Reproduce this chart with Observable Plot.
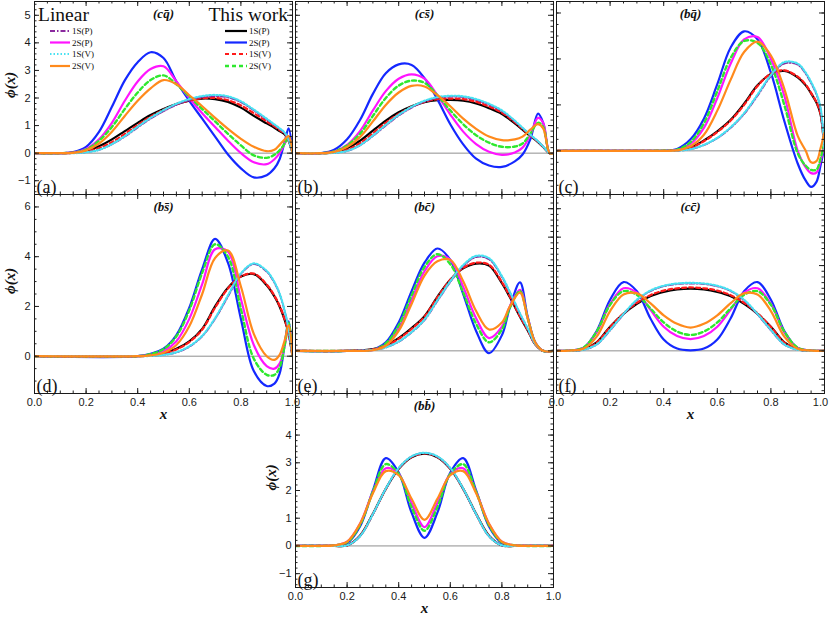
<!DOCTYPE html>
<html><head><meta charset="utf-8">
<script src="https://cdn.jsdelivr.net/npm/d3@7"></script>
<script src="https://cdn.jsdelivr.net/npm/@observablehq/plot@0.6"></script>
<style>
html,body{margin:0;padding:0;background:#fff;}
#wrap{position:relative;width:830px;height:619px;overflow:hidden;background:#fff;}
</style></head><body><div id="wrap"></div>
<script>
// ---------- (a) c q-bar ----------
const xs_cq = [0,0.1,0.15,0.2,0.25,0.3,0.35,0.4,0.45,0.5,0.55,0.6,0.65,0.7,0.75,0.8,0.85,0.9,0.93,0.95,0.97,0.985,1];
const cq_twP2 = [0,0,0.04,0.23,0.77,1.68,2.64,3.3,3.66,3.45,2.6,1.9,1.25,0.6,-0.05,-0.55,-0.88,-0.8,-0.55,-0.22,0.42,0.9,0];
const cq_linP2 = [0,0,0.02,0.15,0.5,1.1,1.9,2.6,3.05,3.15,2.6,2.0,1.45,0.95,0.45,0,-0.33,-0.4,-0.22,0,0.35,0.62,0];
const cq_twV2 = [0,0,0.02,0.13,0.45,0.95,1.6,2.2,2.65,2.82,2.5,2.05,1.6,1.15,0.7,0.28,-0.08,-0.17,-0.06,0.1,0.35,0.58,0];
const cq_linV2 = [0,0,0.01,0.1,0.35,0.78,1.35,1.9,2.35,2.65,2.5,2.1,1.7,1.28,0.88,0.52,0.23,0.07,0.12,0.3,0.5,0.62,0];
const cq_twP1 = [0,0,0.02,0.08,0.25,0.5,0.8,1.1,1.38,1.6,1.78,1.9,1.98,1.96,1.86,1.65,1.35,1.08,0.92,0.8,0.68,0.45,0];
const cq_twV1 = [0,0,0.01,0.05,0.18,0.4,0.7,1.02,1.32,1.57,1.77,1.91,1.99,2.0,1.92,1.73,1.45,1.15,0.97,0.84,0.7,0.46,0];
const cq_linP1 = [0,0,0,0.03,0.12,0.32,0.6,0.93,1.25,1.52,1.75,1.92,2.03,2.07,2.02,1.85,1.55,1.22,1.02,0.88,0.72,0.47,0];
const cq_linV1 = [0,0,0,0.03,0.12,0.33,0.62,0.96,1.28,1.56,1.79,1.96,2.07,2.11,2.06,1.88,1.58,1.25,1.04,0.9,0.74,0.48,0];
// ---------- (b) c s-bar ----------
const xs_cs = [0,0.1,0.15,0.2,0.25,0.3,0.35,0.4,0.45,0.5,0.55,0.6,0.65,0.7,0.75,0.8,0.85,0.88,0.91,0.94,0.96,0.985,1];
const cs_twP2 = [0,0,0.12,0.5,1.2,2.15,2.9,3.22,3.2,2.72,1.95,1.05,0.32,-0.2,-0.45,-0.5,-0.3,-0.05,0.5,1.43,1.1,0,0];
const cs_linP2 = [0,0,0.06,0.3,0.8,1.55,2.25,2.7,2.86,2.7,2.1,1.4,0.78,0.33,0.05,-0.06,0.02,0.2,0.65,1.28,1.1,0,0];
const cs_twV2 = [0,0,0.06,0.28,0.7,1.35,2.0,2.45,2.63,2.55,2.1,1.55,1.05,0.65,0.38,0.23,0.24,0.35,0.7,1.1,0.95,0,0];
const cs_linV2 = [0,0,0.04,0.22,0.58,1.15,1.75,2.2,2.44,2.42,2.1,1.7,1.25,0.88,0.6,0.47,0.5,0.6,0.85,1.05,0.9,0,0];
const cs_twP1 = [0,0,0.03,0.18,0.45,0.82,1.18,1.48,1.7,1.85,1.92,1.93,1.9,1.8,1.63,1.42,1.08,0.85,0.62,0.4,0.22,0,0];
const cs_twV1 = [0,0,0.02,0.12,0.36,0.72,1.1,1.42,1.68,1.86,1.96,1.98,1.96,1.86,1.69,1.47,1.12,0.88,0.64,0.41,0.23,0,0];
const cs_linP1 = [0,0,0.01,0.08,0.28,0.62,1.0,1.36,1.65,1.87,2.0,2.05,2.03,1.93,1.76,1.52,1.16,0.91,0.66,0.42,0.23,0,0];
const cs_linV1 = [0,0,0.01,0.08,0.29,0.64,1.03,1.39,1.68,1.9,2.03,2.08,2.06,1.96,1.79,1.55,1.18,0.92,0.67,0.43,0.24,0,0];
// ---------- (c) b q-bar ----------
const xs_bq = [0,0.35,0.4,0.45,0.5,0.55,0.6,0.65,0.7,0.75,0.8,0.85,0.9,0.93,0.95,0.97,0.985,1];
const bq_twP2 = [0,0,0,0.08,0.5,1.4,2.9,4.5,5.2,4.85,3.4,1.3,-0.55,-1.3,-1.57,-1.35,-0.65,0.2];
const bq_linP2 = [0,0,0,0.03,0.3,1.0,2.3,3.8,4.85,4.95,4.0,2.4,0.0,-0.72,-0.97,-0.95,-0.45,0.3];
const bq_twV2 = [0,0,0.01,0.05,0.38,1.2,2.6,4.05,4.78,4.7,3.75,2.0,-0.1,-0.65,-0.83,-0.82,-0.35,0.4];
const bq_linV2 = [0,0,0,0.02,0.2,0.7,1.75,3.1,4.3,4.75,4.15,2.7,0.65,0.0,-0.5,-0.45,0.1,0.8];
const bq_twP1 = [0,0,0,0.03,0.15,0.45,0.85,1.35,2.05,2.85,3.35,3.48,3.2,2.85,2.5,2.1,1.6,0];
const bq_twV1 = [0,0,0,0.02,0.13,0.42,0.82,1.32,2.0,2.82,3.36,3.5,3.23,2.88,2.52,2.12,1.62,0];
const bq_linP1 = [0,0,0,0.01,0.07,0.25,0.55,1.0,1.6,2.4,3.25,3.8,3.75,3.35,2.95,2.45,1.85,0];
const bq_linV1 = [0,0,0,0.01,0.07,0.26,0.57,1.03,1.64,2.45,3.3,3.86,3.8,3.4,3.0,2.5,1.9,0];
// ---------- (d) b s-bar ----------
const xs_bs = [0,0.4,0.45,0.5,0.55,0.6,0.65,0.7,0.75,0.8,0.85,0.9,0.93,0.95,0.97,0.985,1];
const bs_twP2 = [0,0,0.1,0.3,0.85,1.95,3.5,4.72,3.75,1.5,-0.6,-1.2,-1.1,-0.7,0.5,1.4,0];
const bs_linP2 = [0,0,0.05,0.2,0.6,1.5,2.9,4.3,4.2,2.3,0.45,-0.4,-0.5,-0.3,0.45,1.3,0];
const bs_twV2 = [0,0,0.08,0.28,0.8,1.85,3.35,4.5,4.0,1.9,-0.1,-0.75,-0.75,-0.45,0.45,1.35,0];
const bs_linV2 = [0,0,0.03,0.14,0.45,1.2,2.5,3.95,4.25,2.8,0.9,0.0,-0.15,0.05,0.65,1.25,0];
const bs_twP1 = [0,0,0.03,0.12,0.3,0.6,1.1,2.0,2.75,3.2,3.3,2.85,2.4,2.0,1.45,0.9,0];
const bs_twV1 = [0,0,0.02,0.1,0.27,0.57,1.07,1.95,2.72,3.2,3.32,2.88,2.43,2.03,1.47,0.92,0];
const bs_linP1 = [0,0,0.01,0.05,0.15,0.38,0.8,1.5,2.4,3.3,3.7,3.4,2.95,2.5,1.8,1.05,0];
const bs_linV1 = [0,0,0.01,0.05,0.16,0.4,0.82,1.53,2.45,3.33,3.73,3.43,2.98,2.52,1.82,1.07,0];
// ---------- (e) b c-bar ----------
const xs_bc = [0,0.2,0.3,0.35,0.4,0.45,0.5,0.55,0.6,0.65,0.7,0.75,0.8,0.83,0.87,0.9,0.93,0.96,1];
const bc_twP2 = [0,0,0.05,0.3,1.0,2.1,3.1,3.6,3.2,2.0,0.7,-0.08,0.55,1.5,2.41,1.2,0.28,0,0];
const bc_linP2 = [0,0,0.03,0.22,0.8,1.8,2.8,3.33,3.2,2.25,1.15,0.45,0.85,1.55,2.15,1.15,0.28,0,0];
const bc_twV2 = [0,0,0.04,0.26,0.9,1.95,2.95,3.4,3.05,2.05,0.95,0.3,0.75,1.5,2.1,1.15,0.28,0,0];
const bc_linV2 = [0,0,0.02,0.18,0.7,1.65,2.65,3.15,3.2,2.45,1.4,0.75,1.0,1.55,2.05,1.15,0.28,0,0];
const bc_twP1 = [0,0,0.06,0.2,0.45,0.8,1.22,1.9,2.5,2.9,3.07,3.0,2.38,1.9,1.2,0.72,0.22,0,0];
const bc_twV1 = [0,0,0.05,0.18,0.42,0.77,1.2,1.88,2.5,2.92,3.1,3.03,2.42,1.93,1.22,0.73,0.22,0,0];
const bc_linP1 = [0,0,0.03,0.12,0.32,0.65,1.08,1.75,2.42,2.98,3.3,3.22,2.6,2.07,1.3,0.78,0.24,0,0];
const bc_linV1 = [0,0,0.03,0.12,0.33,0.66,1.1,1.78,2.45,3.02,3.34,3.26,2.63,2.09,1.32,0.79,0.24,0,0];
// ---------- (f) c c-bar ----------
const xs_cc = [0,0.05,0.1,0.15,0.2,0.25,0.3,0.35,0.4,0.45,0.5,0.55,0.6,0.65,0.7,0.75,0.8,0.85,0.9,0.95,1];
const cc_twP2 = [0,0.01,0.1,0.7,1.8,2.42,2.1,1.15,0.4,0.08,0.02,0.08,0.4,1.15,2.1,2.42,1.8,0.7,0.1,0.01,0];
const cc_linP2 = [0,0.01,0.1,0.65,1.65,2.2,2.05,1.45,0.85,0.52,0.41,0.52,0.85,1.45,2.05,2.2,1.65,0.65,0.1,0.01,0];
const cc_twV2 = [0,0.01,0.11,0.68,1.62,2.1,1.97,1.5,1.0,0.68,0.56,0.68,1.0,1.5,1.97,2.1,1.62,0.68,0.11,0.01,0];
const cc_linV2 = [0,0.01,0.07,0.5,1.4,1.98,2.02,1.68,1.25,0.95,0.82,0.95,1.25,1.68,2.02,1.98,1.4,0.5,0.07,0.01,0];
const cc_twP1 = [0,0,0.06,0.3,0.85,1.3,1.65,1.92,2.07,2.16,2.19,2.16,2.07,1.92,1.65,1.3,0.85,0.3,0.06,0,0];
const cc_twV1 = [0,0,0.06,0.29,0.84,1.32,1.69,1.96,2.12,2.2,2.23,2.2,2.12,1.96,1.69,1.32,0.84,0.29,0.06,0,0];
const cc_linP1 = [0,0,0.04,0.22,0.72,1.28,1.78,2.1,2.27,2.35,2.37,2.35,2.27,2.1,1.78,1.28,0.72,0.22,0.04,0,0];
const cc_linV1 = [0,0,0.04,0.23,0.74,1.3,1.8,2.12,2.29,2.37,2.39,2.37,2.29,2.12,1.8,1.3,0.74,0.23,0.04,0,0];
// ---------- (g) b b-bar ----------
const xs_bb = [0,0.1,0.15,0.2,0.25,0.3,0.35,0.4,0.45,0.5,0.55,0.6,0.65,0.7,0.75,0.8,0.85,0.9,1];
const bb_twP2 = [0,0,0.01,0.1,0.7,2.0,3.17,2.65,1.2,0.29,1.2,2.65,3.17,2.0,0.7,0.1,0.01,0,0];
const bb_linP2 = [0,0,0.02,0.15,0.8,1.95,2.8,2.6,1.55,0.68,1.55,2.6,2.8,1.95,0.8,0.15,0.02,0,0];
const bb_twV2 = [0,0,0.02,0.13,0.75,1.95,2.95,2.6,1.4,0.55,1.4,2.6,2.95,1.95,0.75,0.13,0.02,0,0];
const bb_linV2 = [0,0,0.02,0.15,0.8,1.9,2.7,2.55,1.7,0.94,1.7,2.55,2.7,1.9,0.8,0.15,0.02,0,0];
const bb_twP1 = [0,0,0,0.02,0.37,1.16,2.06,2.78,3.2,3.33,3.2,2.78,2.06,1.16,0.37,0.02,0,0,0];
const bb_twV1 = [0,0,0,0.02,0.36,1.15,2.06,2.79,3.21,3.34,3.21,2.79,2.06,1.15,0.36,0.02,0,0,0];
const bb_linP1 = [0,0,0,0.02,0.35,1.14,2.06,2.8,3.22,3.35,3.22,2.8,2.06,1.14,0.35,0.02,0,0,0];
const bb_linV1 = [0,0,0,0.02,0.35,1.15,2.07,2.81,3.23,3.36,3.23,2.81,2.07,1.15,0.35,0.02,0,0,0];

// tick labels
const yLabels_a = [-1,0,1,2,3,4,5];
const yLabels_d = [0,2,4,6];
const yLabels_g = [-1,0,1,2,3,4];
const xLabels = [0,0.2,0.4,0.6,0.8,1.0];

const STYLE = {
  twP1: {color:"#000000", width:2.2, dash:null, label:"1S(P)"},
  twP2: {color:"#1428ff", width:2.2, dash:null, label:"2S(P)"},
  twV1: {color:"#ff1a1a", width:2.2, dash:"4,3", label:"1S(V)"},
  twV2: {color:"#2ee82e", width:2.4, dash:"4,3", label:"2S(V)"},
  linP1:{color:"#8a2a9e", width:1.8, dash:"5,2,1.5,2", label:"1S(P)"},
  linP2:{color:"#ff14ff", width:2.2, dash:null, label:"2S(P)"},
  linV1:{color:"#48e2f2", width:2.2, dash:"1.5,2", label:"1S(V)"},
  linV2:{color:"#ff8a1c", width:2.2, dash:null, label:"2S(V)"}
};
const ORDER = ["twP1","twP2","linP2","twV2","twV1","linP1","linV1","linV2"];
const SERIF = "'Liberation Serif','DejaVu Serif',serif";
const SANS = "'Liberation Sans',Arial,sans-serif";

function mk(a){ return {linP1:a[0],linP2:a[1],linV1:a[2],linV2:a[3],twP1:a[4],twP2:a[5],twV1:a[6],twV2:a[7]}; }

const panels = [
 {xs:xs_cq, s:mk([cq_linP1,cq_linP2,cq_linV1,cq_linV2,cq_twP1,cq_twP2,cq_twV1,cq_twV2]), dom:[-1.5,5.5], L:34,R:292,T:1,B:194, maj:1, min:0.2, yl:yLabels_a, xl:null, title:"(cq\u0304)", tag:"(a)", yt:true, xt:false},
 {xs:xs_cs, s:mk([cs_linP1,cs_linP2,cs_linV1,cs_linV2,cs_twP1,cs_twP2,cs_twV1,cs_twV2]), dom:[-1.5,5.5], L:295,R:553,T:1,B:194, maj:1, min:0.2, yl:null, xl:null, title:"(cs\u0304)", tag:"(b)", yt:false, xt:false},
 {xs:xs_bq, s:mk([bq_linP1,bq_linP2,bq_linV1,bq_linV2,bq_twP1,bq_twP2,bq_twV1,bq_twV2]), dom:[-1.9,6.5], L:556,R:824,T:1,B:194, maj:2, min:0.5, yl:null, xl:null, title:"(bq\u0304)", tag:"(c)", yt:false, xt:false},
 {xs:xs_bs, s:mk([bs_linP1,bs_linP2,bs_linV1,bs_linV2,bs_twP1,bs_twP2,bs_twV1,bs_twV2]), dom:[-1.5,6.5], L:34,R:292,T:194,B:393, maj:2, min:0.5, yl:yLabels_d, xl:xLabels, title:"(bs\u0304)", tag:"(d)", yt:true, xt:true},
 {xs:xs_bc, s:mk([bc_linP1,bc_linP2,bc_linV1,bc_linV2,bc_twP1,bc_twP2,bc_twV1,bc_twV2]), dom:[-1.5,5.5], L:295,R:553,T:194,B:393, maj:1, min:0.2, yl:null, xl:null, title:"(bc\u0304)", tag:"(e)", yt:false, xt:false},
 {xs:xs_cc, s:mk([cc_linP1,cc_linP2,cc_linV1,cc_linV2,cc_twP1,cc_twP2,cc_twV1,cc_twV2]), dom:[-1.5,5.5], L:556,R:824,T:194,B:393, maj:1, min:0.2, yl:null, xl:xLabels, title:"(cc\u0304)", tag:"(f)", yt:false, xt:true, lastShift:-4},
 {xs:xs_bb, s:mk([bb_linP1,bb_linP2,bb_linV1,bb_linV2,bb_twP1,bb_twP2,bb_twV1,bb_twV2]), dom:[-1.5,5.5], L:295,R:553,T:393,B:587, maj:1, min:0.2, yl:yLabels_g, xl:xLabels, title:"(bb\u0304)", tag:"(g)", yt:true, xt:true}
];

function steps(dom, step){
  const out=[]; const k0=Math.ceil(dom[0]/step-1e-9), k1=Math.floor(dom[1]/step+1e-9);
  for(let k=k0;k<=k1;k++) out.push(+(k*step).toFixed(4));
  return out;
}

const wrap = document.getElementById("wrap");
const mL=44, mR=12, mT=12, mB=40;
const fmtX = d3.format(".1f"), fmtY = d3.format("d");
for (const p of panels){
  const fw=p.R-p.L, fh=p.B-p.T;
  const marks=[];
  marks.push(Plot.ruleY([0],{stroke:"#8f8f8f",strokeWidth:1}));
  for (const k of ORDER){
    const st=STYLE[k], vals=p.s[k];
    marks.push(Plot.line(p.xs.map((x,i)=>({x, y:vals[i]})), {x:"x", y:"y", stroke:st.color, strokeWidth:st.width, strokeDasharray:st.dash||undefined, curve:"catmull-rom", clip:true}));
  }
  const xMin=steps([0,1],0.05), xMaj=steps([0,1],0.2);
  const yMin=steps(p.dom,p.min), yMaj=steps(p.dom,p.maj);
  const MAJ=5, MIN=2.5, tc="#222";
  marks.push(
    Plot.tickX(xMin,{x:d=>d, insetTop:fh-MIN, stroke:tc}),
    Plot.tickX(xMin,{x:d=>d, insetBottom:fh-MIN, stroke:tc}),
    Plot.tickX(xMaj,{x:d=>d, insetTop:fh-MAJ, stroke:tc}),
    Plot.tickX(xMaj,{x:d=>d, insetBottom:fh-MAJ, stroke:tc}),
    Plot.tickY(yMin,{y:d=>d, insetRight:fw-MIN, stroke:tc}),
    Plot.tickY(yMin,{y:d=>d, insetLeft:fw-MIN, stroke:tc}),
    Plot.tickY(yMaj,{y:d=>d, insetRight:fw-MAJ, stroke:tc}),
    Plot.tickY(yMaj,{y:d=>d, insetLeft:fw-MAJ, stroke:tc}),
    Plot.frame({stroke:"#1a1a1a", strokeWidth:1})
  );
  if (p.yl) marks.push(Plot.text(p.yl,{y:d=>d, text:d=>fmtY(d), frameAnchor:"left", dx:-4, textAnchor:"end", fontSize:11, fontFamily:SANS, fill:"#1a1a1a"}));
  if (p.xl) {
    const shift = p.lastShift || 0;
    const main = shift ? p.xl.filter(d=>d<1) : p.xl;
    marks.push(Plot.text(main,{x:d=>d, text:d=>fmtX(d), frameAnchor:"bottom", dy:12, fontSize:11, fontFamily:SANS, fill:"#1a1a1a"}));
    if (shift) marks.push(Plot.text(p.xl.filter(d=>d>=1),{x:d=>d, text:d=>fmtX(d), frameAnchor:"bottom", dy:12, dx:shift, fontSize:11, fontFamily:SANS, fill:"#1a1a1a"}));
  }
  marks.push(Plot.text([p.title],{text:d=>d, frameAnchor:"top", dy:7, lineAnchor:"top", fontSize:13, fontWeight:"bold", fontStyle:"italic", fontFamily:SERIF, fill:"#111"}));
  marks.push(Plot.text([p.tag],{text:d=>d, frameAnchor:"bottom-left", dx:2, dy:-2, lineAnchor:"bottom", textAnchor:"start", fontSize:18, fontFamily:SERIF, fill:"#111"}));
  if (p.yt) marks.push(Plot.text(["\u03d5(x)"],{text:d=>d, frameAnchor:"left", dx:-24, rotate:-90, fontSize:15, fontStyle:"italic", fontWeight:"bold", fontFamily:SERIF, fill:"#111"}));
  if (p.xt) marks.push(Plot.text(["x"],{text:d=>d, frameAnchor:"bottom", dy:25, fontSize:15, fontWeight:"bold", fontStyle:"italic", fontFamily:SERIF, fill:"#111"}));
  const svg = Plot.plot({
    width: fw+mL+mR, height: fh+mT+mB,
    marginLeft:mL, marginRight:mR, marginTop:mT, marginBottom:mB,
    x:{domain:[0,1], axis:null}, y:{domain:p.dom, axis:null},
    style:{background:"transparent", overflow:"visible", position:"absolute", left:(p.L-mL)+"px", top:(p.T-mT)+"px", maxWidth:"none", fontFamily:SANS},
    marks
  });
  wrap.appendChild(svg);
}

// legend in panel (a)
const leg = d3.select(wrap).append("svg").attr("width",830).attr("height",619)
  .style("position","absolute").style("left","0px").style("top","0px").style("pointer-events","none");
leg.append("text").attr("x",38).attr("y",21).attr("font-family",SERIF).attr("font-size",19.5).attr("fill","#111").text("Linear");
leg.append("text").attr("x",288).attr("y",21).attr("text-anchor","end").attr("font-family",SERIF).attr("font-size",19.5).attr("fill","#111").text("This work");
const rows=[31,42.5,54,66];
const leftKeys=["linP1","linP2","linV1","linV2"], rightKeys=["twP1","twP2","twV1","twV2"];
function legCol(keys,x0,x1,tx){
  keys.forEach((k,i)=>{
    const st=STYLE[k];
    leg.append("line").attr("x1",x0).attr("x2",x1).attr("y1",rows[i]).attr("y2",rows[i])
      .attr("stroke",st.color).attr("stroke-width",st.width).attr("stroke-dasharray",st.dash||null);
    leg.append("text").attr("x",tx).attr("y",rows[i]).attr("dy","0.35em").attr("font-family",SERIF).attr("font-size",9).attr("fill","#111").text(st.label);
  });
}
legCol(leftKeys,50,70,72);
legCol(rightKeys,225,247,249);
</script></body></html>
